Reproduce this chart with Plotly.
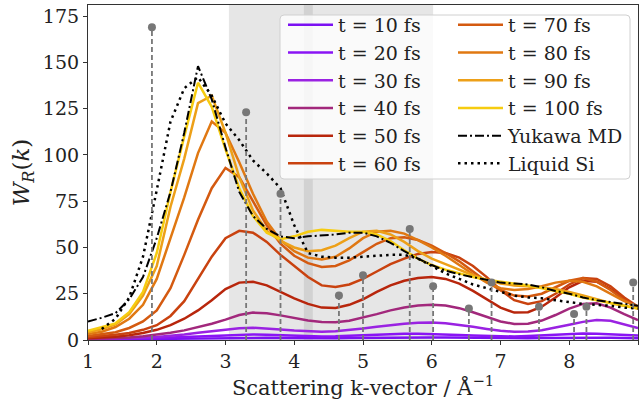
import plotly.graph_objects as go

# ---------------- data ----------------
k = [1.0, 1.2, 1.4, 1.6, 1.8, 2.0, 2.2, 2.4, 2.6, 2.8,
     3.0, 3.2, 3.4, 3.6, 3.8, 4.0, 4.2, 4.4, 4.6, 4.8,
     5.0, 5.2, 5.4, 5.6, 5.8, 6.0, 6.2, 6.4, 6.6, 6.8,
     7.0, 7.2, 7.4, 7.6, 7.8, 8.0, 8.2, 8.4, 8.6, 8.8, 9.0]

t_labels = ["t = 10 fs", "t = 20 fs", "t = 30 fs", "t = 40 fs", "t = 50 fs",
            "t = 60 fs", "t = 70 fs", "t = 80 fs", "t = 90 fs", "t = 100 fs"]

w_t10 = [0.2, 0.3, 0.4, 0.5, 0.6, 0.7, 0.8, 0.9, 1.0, 1.1,
         1.2, 1.3, 1.3, 1.2, 1.1, 1.0, 0.9, 0.9, 1.0, 1.1,
         1.2, 1.3, 1.4, 1.4, 1.4, 1.4, 1.3, 1.2, 1.1, 1.0,
         0.9, 0.9, 1.0, 1.1, 1.2, 1.3, 1.4, 1.3, 1.2, 1.1, 1.0]
w_t20 = [0.3, 0.4, 0.5, 0.7, 0.9, 1.1, 1.4, 1.7, 2.0, 2.4,
         2.8, 3.0, 3.0, 2.8, 2.5, 2.2, 2.0, 1.9, 2.0, 2.3,
         2.7, 3.0, 3.2, 3.4, 3.4, 3.3, 3.0, 2.7, 2.4, 2.1,
         1.9, 1.9, 2.1, 2.5, 2.9, 3.3, 3.5, 3.4, 3.1, 2.7, 2.4]
w_t30 = [0.4, 0.5, 0.7, 0.9, 1.2, 1.6, 2.2, 3.0, 3.9, 4.8,
         5.7, 6.4, 6.6, 6.3, 5.7, 5.1, 4.7, 4.5, 4.7, 5.3,
         6.2, 7.2, 8.1, 8.8, 9.3, 9.4, 9.0, 8.2, 7.1, 6.0,
         5.0, 4.5, 4.6, 5.3, 6.6, 8.2, 9.8, 10.8, 10.4, 8.6, 6.4]
w_t40 = [0.5, 0.7, 1.0, 1.4, 2.0, 2.8, 3.9, 5.2, 6.9, 8.8,
         11.0, 13.5, 14.8, 14.5, 13.3, 11.8, 10.5, 9.7, 9.6, 10.4,
         12.0, 14.0, 16.0, 17.6, 18.6, 19.0, 18.6, 17.2, 15.0, 12.5,
         10.0, 8.7, 8.8, 10.5, 13.5, 17.0, 19.5, 19.8, 17.5, 14.0, 10.8]
w_t50 = [1.0, 1.3, 1.8, 2.6, 3.8, 5.5, 8.0, 11.5, 16.0, 21.5,
         27.5, 31.0, 31.5, 29.5, 26.0, 22.5, 19.5, 17.5, 17.3, 19.0,
         22.0, 26.0, 29.5, 32.0, 33.5, 34.0, 33.0, 30.5, 26.5, 22.0,
         17.5, 14.8, 15.0, 18.0, 23.0, 28.5, 32.0, 31.5, 27.5, 22.0, 17.0]
w_t60 = [1.5, 2.0, 2.8, 3.8, 5.5, 8.0, 13.0, 21.0, 33.0, 45.0,
         55.0, 59.0, 58.0, 53.0, 46.0, 40.0, 34.0, 29.5, 28.6, 30.0,
         33.0, 37.0, 41.0, 44.0, 46.5, 47.5, 47.0, 44.5, 40.0, 34.0,
         27.0, 21.5, 19.5, 21.0, 25.0, 30.0, 33.5, 33.0, 29.0, 23.0, 18.0]
w_t70 = [2.2, 3.0, 4.2, 6.5, 10.0, 16.0, 28.0, 46.0, 65.0, 82.0,
         93.0, 88.0, 75.0, 62.0, 52.0, 45.5, 41.5, 39.5, 40.0, 43.0,
         47.5, 52.0, 55.0, 55.5, 54.0, 51.0, 47.0, 42.5, 37.0, 31.5,
         27.0, 24.0, 23.5, 25.0, 28.5, 32.0, 33.5, 31.5, 27.0, 21.5, 17.5]
w_t80 = [3.2, 4.5, 7.0, 11.5, 19.0, 33.0, 55.0, 77.0, 101.0, 118.0,
         112.0, 96.0, 79.0, 64.0, 54.0, 48.0, 44.5, 43.5, 45.0, 49.5,
         55.0, 58.5, 59.0, 57.5, 54.0, 50.0, 45.5, 40.5, 35.5, 31.0,
         28.0, 27.0, 27.5, 29.0, 31.0, 32.0, 31.5, 29.0, 25.0, 21.0, 18.0]
w_t90 = [4.2, 5.8, 8.5, 14.0, 24.0, 40.0, 72.0, 98.0, 128.0, 132.0,
         112.0, 88.0, 70.0, 59.0, 53.5, 50.0, 48.0, 48.5, 51.0, 55.0,
         58.5, 59.0, 57.0, 53.0, 48.0, 44.0, 41.0, 38.0, 35.0, 32.5,
         30.5, 29.5, 29.0, 28.5, 27.5, 26.0, 24.0, 22.0, 20.0, 18.5, 17.0]
w_t100 = [5.0, 7.0, 9.0, 15.0, 26.0, 47.0, 80.0, 110.0, 139.0, 126.0,
          103.0, 82.0, 67.0, 58.0, 54.5, 56.0, 58.5, 59.5, 59.0, 58.5,
          58.5, 57.0, 53.5, 48.5, 44.0, 40.5, 38.0, 36.0, 34.0, 32.5,
          31.5, 30.5, 29.5, 28.0, 26.5, 25.0, 23.0, 21.5, 20.0, 18.5, 17.0]

w_yukawa = [10.0, 12.0, 14.5, 22.0, 34.0, 55.0, 80.0, 112.0, 148.0, 130.0,
            104.0, 80.0, 67.0, 60.0, 56.0, 55.0, 56.0, 56.5, 57.0, 58.0,
            58.0, 56.0, 52.5, 48.0, 44.0, 40.5, 37.5, 35.5, 34.0, 32.5,
            31.0, 30.5, 30.0, 28.5, 26.5, 25.0, 23.0, 21.5, 20.5, 19.5, 18.5]

k_liquid = [1.2, 1.4, 1.6, 1.8, 2.0, 2.2, 2.4, 2.6, 2.8,
            3.0, 3.2, 3.4, 3.6, 3.8, 4.0, 4.2, 4.4, 4.6, 4.8,
            5.0, 5.2, 5.4, 5.6, 5.8, 6.0, 6.2, 6.4, 6.6, 6.8,
            7.0, 7.2, 7.4, 7.6, 7.8, 8.0, 8.2, 8.4, 8.6, 8.8, 9.0]
w_liquid = [6.0, 11.5, 23.0, 45.0, 81.0, 118.0, 136.0, 142.0, 132.0,
            117.0, 108.0, 97.0, 90.0, 82.0, 62.0, 47.0, 45.0, 44.5, 44.5,
            45.0, 45.5, 46.0, 46.0, 44.0, 40.0, 36.0, 33.0, 30.0, 28.0,
            26.0, 24.0, 23.0, 22.5, 21.5, 20.5, 19.5, 19.0, 18.5, 17.5, 17.0]

bragg_k = [1.93, 3.30, 3.80, 4.65, 5.00, 5.68, 6.02, 6.54, 6.87, 7.56, 8.07, 8.25, 8.93]
bragg_h = [169, 123, 79, 24, 35, 60, 29, 17, 31, 18, 14, 18, 31]

shaded_regions = [(3.05, 4.27), (4.14, 6.02)]

x_ticks = [1, 2, 3, 4, 5, 6, 7, 8, 9]
y_ticks = [0, 25, 50, 75, 100, 125, 150, 175]

# ---------------- styles ----------------
t_colors = ["#7b10f2", "#8a14f4", "#9a22e2", "#a2287c", "#b8260c",
            "#c9420f", "#d45a10", "#e07812", "#eda018", "#f6cc10"]
series = [w_t10, w_t20, w_t30, w_t40, w_t50, w_t60, w_t70, w_t80, w_t90, w_t100]

FONT = "DejaVu Serif"
fig = go.Figure()

for i, (lab, ys, col) in enumerate(zip(t_labels, series, t_colors)):
    fig.add_trace(go.Scatter(
        x=k, y=ys, mode="lines", name=lab,
        line=dict(color=col, width=2.5),
        legend="legend" if i < 6 else "legend2"))

fig.add_trace(go.Scatter(
    x=k, y=w_yukawa, mode="lines", name="Yukawa MD",
    line=dict(color="black", width=2, dash="9px,3px,2px,3px"),
    legend="legend2"))
fig.add_trace(go.Scatter(
    x=k_liquid, y=w_liquid, mode="lines", name="Liquid Si",
    line=dict(color="black", width=2.5, dash="2.5px,4px"),
    legend="legend2"))

# Bragg stems
sx, sy = [], []
for kk, hh in zip(bragg_k, bragg_h):
    sx += [kk, kk, None]
    sy += [0, hh, None]
fig.add_trace(go.Scatter(x=sx, y=sy, mode="lines", showlegend=False,
                         line=dict(color="#777777", width=1.8, dash="5px,3px"),
                         hoverinfo="skip"))
fig.add_trace(go.Scatter(x=bragg_k, y=bragg_h, mode="markers", showlegend=False,
                         marker=dict(color="#777777", size=8)))

for x0, x1 in shaded_regions:
    fig.add_shape(type="rect", xref="x", yref="paper", x0=x0, x1=x1, y0=0, y1=1,
                  fillcolor="rgba(128,128,128,0.2)", line=dict(width=0), layer="below")

# legend frame (two legends share one rounded box), built in pixel space -> paper
PL, PW, PB, PH = 88, 550, 340, 335
def px(x):
    return (x - PL) / PW
def py(y):
    return (PB - y) / PH
fx0, fx1, fy0, fy1, r = 280, 630, 15, 179, 4
frame_path = (
    f"M {px(fx0 + r)},{py(fy0)} L {px(fx1 - r)},{py(fy0)} "
    f"Q {px(fx1)},{py(fy0)} {px(fx1)},{py(fy0 + r)} "
    f"L {px(fx1)},{py(fy1 - r)} Q {px(fx1)},{py(fy1)} {px(fx1 - r)},{py(fy1)} "
    f"L {px(fx0 + r)},{py(fy1)} Q {px(fx0)},{py(fy1)} {px(fx0)},{py(fy1 - r)} "
    f"L {px(fx0)},{py(fy0 + r)} Q {px(fx0)},{py(fy0)} {px(fx0 + r)},{py(fy0)} Z"
)
fig.add_shape(type="path", xref="paper", yref="paper", path=frame_path,
              fillcolor="rgba(255,255,255,0.8)", line=dict(color="#d0d0d0", width=1),
              layer="above")

leg_common = dict(bgcolor="rgba(0,0,0,0)", borderwidth=0, xanchor="left", yanchor="top",
                  font=dict(family=FONT, size=19, color="#222"), itemwidth=45,
                  tracegroupgap=0)
fig.update_layout(
    width=642, height=410,
    margin=dict(l=88, r=4, t=5, b=70),
    plot_bgcolor="white", paper_bgcolor="white",
    font=dict(family=FONT, size=19, color="#222"),
    legend=dict(x=px(283), y=py(6), **leg_common),
    legend2=dict(x=px(453), y=py(6), **leg_common),
)
fig.update_xaxes(range=[1, 9], tickvals=x_ticks, showline=True, linecolor="#333",
                 linewidth=1.2, mirror=True, ticks="outside", ticklen=4, tickcolor="#333",
                 showgrid=False, zeroline=False,
                 title=dict(text="Scattering k-vector / Å<sup>−1</sup>",
                            font=dict(size=21), standoff=9))
fig.update_yaxes(range=[0, 181], tickvals=y_ticks, showline=True, linecolor="#333",
                 linewidth=1.2, mirror=True, ticks="outside", ticklen=4, tickcolor="#333",
                 showgrid=False, zeroline=False,
                 title=dict(text="<i>W</i><sub><i>R</i></sub>(<i>k</i>)",
                            font=dict(size=23), standoff=6))

fig.write_html("out.html")
